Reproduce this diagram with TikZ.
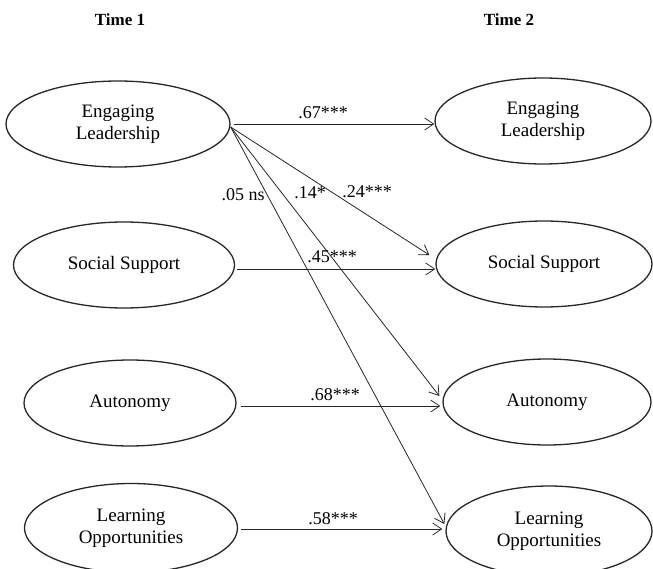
\documentclass[tikz,border=0pt]{standalone}
\usepackage{fontspec}
\setmainfont{Liberation Serif}
\usetikzlibrary{arrows.meta,calc,shapes.geometric}
\begin{document}
\begin{tikzpicture}[x=1pt,y=-1pt,
  latent/.style={ellipse,draw=black!85,line width=1.3pt,inner sep=0pt,align=center,
    font=\fontsize{19}{22}\selectfont},
  pathar/.style={-{Straight Barb[length=9pt,width=12pt]},line width=0.8pt,draw=black!85},
  lab/.style={font=\fontsize{18}{20}\selectfont,inner sep=0pt},
  hdr/.style={font=\fontsize{17}{20}\selectfont\bfseries}]
\clip (0,0) rectangle (653,569);
\node[hdr] (t1) at (120,20) {Time 1};
\node[hdr] (t2) at (509,20) {Time 2};

\node[latent,minimum width=224pt,minimum height=86pt] (EL1) at (118,124) {Engaging\\Leadership};
\node[latent,minimum width=216pt,minimum height=86pt] (EL2) at (543,121) {Engaging\\Leadership};
\node[latent,minimum width=221pt,minimum height=86pt] (SS1) at (124,265) {Social Support};
\node[latent,minimum width=216pt,minimum height=86pt] (SS2) at (544,264) {Social Support};
\node[latent,minimum width=212pt,minimum height=86pt] (AU1) at (130,403) {Autonomy};
\node[latent,minimum width=208pt,minimum height=86pt] (AU2) at (547,402) {Autonomy};
\node[latent,minimum width=213pt,minimum height=89pt] (LO1) at (131,528) {Learning\\Opportunities};
\node[latent,minimum width=206pt,minimum height=90pt] (LO2) at (549,531) {Learning\\Opportunities};

\coordinate (h1) at ([xshift=3pt]EL1.east);
\coordinate (h2) at ([shift={(2pt,-4pt)}]SS1.east);
\coordinate (h3) at ([shift={(4pt,-3pt)}]AU1.east);
\coordinate (h4) at ([shift={(3pt,-1pt)}]LO1.east);
\draw[pathar] (h1) -- (h1 -| EL2.west);
\draw[pathar] (h2) -- (h2 -| SS2.west);
\draw[pathar] (h3) -- ([xshift=-2pt]h3 -| AU2.west);
\draw[pathar] (h4) -- ([xshift=-3pt]h4 -| LO2.west);

\coordinate (src) at ([yshift=-3pt]EL1.east);
\draw[pathar] (src) -- ([shift={(-6pt,9pt)}]SS2.west);
\draw[pathar] (src) -- ([shift={(-3pt,6pt)}]AU2.west);
\draw[pathar] (src) -- ([shift={(-1pt,7pt)}]LO2.west);

\node[lab] (l67) at (323,113) {.67***};
\node[lab] (l45) at (332,257) {.45***};
\node[lab] (l68) at (335,395) {.68***};
\node[lab] (l58) at (333,519) {.58***};
\node[lab] (l05) at (243,195) {.05 ns};
\node[lab] (l14) at (310,193) {.14*};
\node[lab] (l24) at (367,192) {.24***};
\end{tikzpicture}
\end{document}
